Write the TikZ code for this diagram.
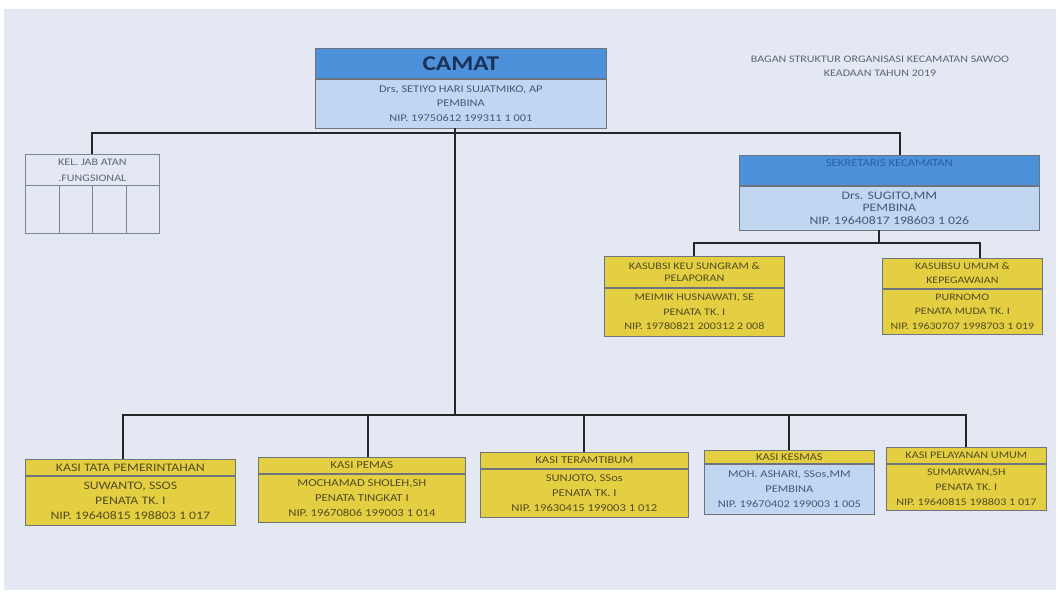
\documentclass[tikz,border=0pt]{standalone}
\usepackage{fontspec}
\setmainfont{Carlito}[FakeStretch=1.2]
\usetikzlibrary{positioning}

\definecolor{kertas}{RGB}{227,232,243}
\definecolor{biru}{RGB}{76,145,218}
\definecolor{birumuda}{RGB}{193,214,240}
\definecolor{kuningtua}{RGB}{228,207,66}
\definecolor{garistepi}{RGB}{110,115,125}
\definecolor{abu}{RGB}{125,135,148}
\definecolor{navy}{RGB}{28,48,88}
\definecolor{teksbiru}{RGB}{68,88,128}
\definecolor{teksjudul}{RGB}{40,95,170}
\definecolor{tekskuning}{RGB}{82,76,34}
\definecolor{teksabu}{RGB}{92,102,118}

\begin{document}
\begin{tikzpicture}[x=1pt,y=-1pt]
    \tikzset{
        kotak/.style        =   { rectangle
                                , draw=garistepi
                                , line width=0.7pt
                                , inner sep=0pt
                                , align=center
                                }
        , huruf/.style 2 args = { font=\fontsize{#1}{#2}\selectfont }
        , kepala/.style     =   { kotak, fill=biru, anchor=north west }
        , isi/.style        =   { kotak, fill=birumuda, text=teksbiru }
        , kuningkepala/.style = { kotak, fill=kuningtua, text=tekskuning, anchor=north west }
        , kuningisi/.style  =   { kotak, fill=kuningtua, text=tekskuning }
        , penghubung/.style =   { line width=1.8pt, draw=black!85 }
    }
    % latar kertas
    \fill[white] (0,0) rectangle (1059,594);
    \fill[kertas] (4,9) rectangle (1056,590);

    % judul
    \node[text=teksabu, align=center, huruf={10}{14}] (judul) at (880,66)
        {BAGAN STRUKTUR ORGANISASI KECAMATAN SAWOO\\KEADAAN TAHUN 2019};

    % camat
    \node[kepala, text=navy, minimum width=291, minimum height=30,
          font=\fontsize{21}{24}\selectfont\bfseries] (camath) at (315,48) {CAMAT};
    \node[isi, huruf={10.3}{14.5}, minimum width=291, minimum height=49,
          below=0pt of camath] (camat)
        {Drs, SETIYO HARI SUJATMIKO, AP\\PEMBINA\\NIP. 19750612 199311 1 001};

    % kelompok jabatan fungsional
    \node[kotak, draw=abu, text=teksabu, anchor=north west, minimum width=134,
          minimum height=31, huruf={10}{16}] (kelh) at (25,154)
        {KEL. JAB ATAN\\.FUNGSIONAL};
    \foreach \i in {0,...,3}
        \node[kotak, draw=abu, anchor=north west, minimum width=33.5,
              minimum height=48] (kel\i) at ({25+33.5*\i},185) {};

    % sekretaris
    \node[kepala, text=teksjudul, minimum width=300, minimum height=30,
          text height=6.5pt, text depth=13.5pt, huruf={10.5}{12}] (sekh) at (739,155)
        {SEKRETARIS KECAMATAN};
    \node[isi, huruf={11.5}{12.5}, minimum width=300, minimum height=44,
          below=0pt of sekh] (sek)
        {Drs. SUGITO,MM\\PEMBINA\\NIP. 19640817 198603 1 026};

    % kasubsi
    \node[kuningkepala, minimum width=180, minimum height=31, huruf={10.1}{12.5}] (keuh) at (604,256)
        {KASUBSI KEU SUNGRAM \&\\PELAPORAN};
    \node[kuningisi, minimum width=180, minimum height=48, huruf={10.1}{14.5},
          below=0pt of keuh] (keu)
        {MEIMIK HUSNAWATI, SE\\PENATA TK. I\\NIP. 19780821 200312 2 008};
    \node[kuningkepala, minimum width=160, minimum height=30, huruf={9.9}{14}] (umumh) at (882,258)
        {KASUBSU UMUM \&\\KEPEGAWAIAN};
    \node[kuningisi, minimum width=160, minimum height=45, huruf={9.9}{14.5},
          below=0pt of umumh] (umum)
        {PURNOMO\\PENATA MUDA TK. I\\NIP. 19630707 1998703 1 019};

    % kasi
    \node[kuningkepala, minimum width=210, minimum height=16, huruf={11.5}{14.5}] (tatah) at (25,459)
        {KASI TATA PEMERINTAHAN};
    \node[kuningisi, minimum width=210, minimum height=49, huruf={11.5}{14.8},
          below=0pt of tatah] (tata)
        {SUWANTO, SSOS\\PENATA TK. I\\NIP. 19640815 198803 1 017};
    \node[kuningkepala, minimum width=207, minimum height=16, huruf={10.6}{15}] (pemash) at (258,457)
        {KASI PEMAS};
    \node[kuningisi, minimum width=207, minimum height=48, huruf={10.6}{15},
          below=0pt of pemash] (pemas)
        {MOCHAMAD SHOLEH,SH\\PENATA TINGKAT I\\NIP. 19670806 199003 1 014};
    \node[kuningkepala, minimum width=208, minimum height=16, huruf={10.5}{15}] (tramh) at (480,452)
        {KASI TERAMTIBUM};
    \node[kuningisi, minimum width=208, minimum height=48, huruf={10.5}{15},
          below=0pt of tramh] (tram)
        {SUNJOTO, SSos\\PENATA TK. I\\NIP. 19630415 199003 1 012};
    \node[kuningkepala, minimum width=170, minimum height=13, huruf={10.3}{15}] (kesmash) at (704,450)
        {KASI KESMAS};
    \node[isi, minimum width=170, minimum height=50, huruf={10.3}{15},
          below=0pt of kesmash] (kesmas)
        {MOH. ASHARI, SSos,MM\\PEMBINA\\NIP. 19670402 199003 1 005};
    \node[kuningkepala, minimum width=160, minimum height=16, huruf={10.1}{15}] (layanh) at (886,447)
        {KASI PELAYANAN UMUM};
    \node[kuningisi, minimum width=160, minimum height=46, huruf={10.1}{15},
          below=0pt of layanh] (layan)
        {SUMARWAN,SH\\PENATA TK. I\\NIP. 19640815 198803 1 017};

    % garis penghubung
    \coordinate (atas) at (455,133);
    \coordinate (bawah) at (455,415);
    \coordinate (tengah) at (879,243);

    \draw[penghubung] (camat.south -| atas) -- (bawah);
    \draw[penghubung] (kelh.north) |- (atas) -| ([xshift=11pt]sekh.north);
    \draw[penghubung] (sek.south -| tengah) -- (tengah);
    \draw[penghubung] (keuh.north) |- (tengah) -| ([xshift=18pt]umumh.north);
    \draw[penghubung] ([xshift=-7pt]tatah.north) |- (bawah) -| (layanh.north);
    \draw[penghubung] ([xshift=6pt]pemash.north) -- ([xshift=6pt]pemash.north |- bawah);
    \draw[penghubung] (tramh.north) -- (tramh.north |- bawah);
    \draw[penghubung] (kesmash.north) -- (kesmash.north |- bawah);
\end{tikzpicture}
\end{document}
